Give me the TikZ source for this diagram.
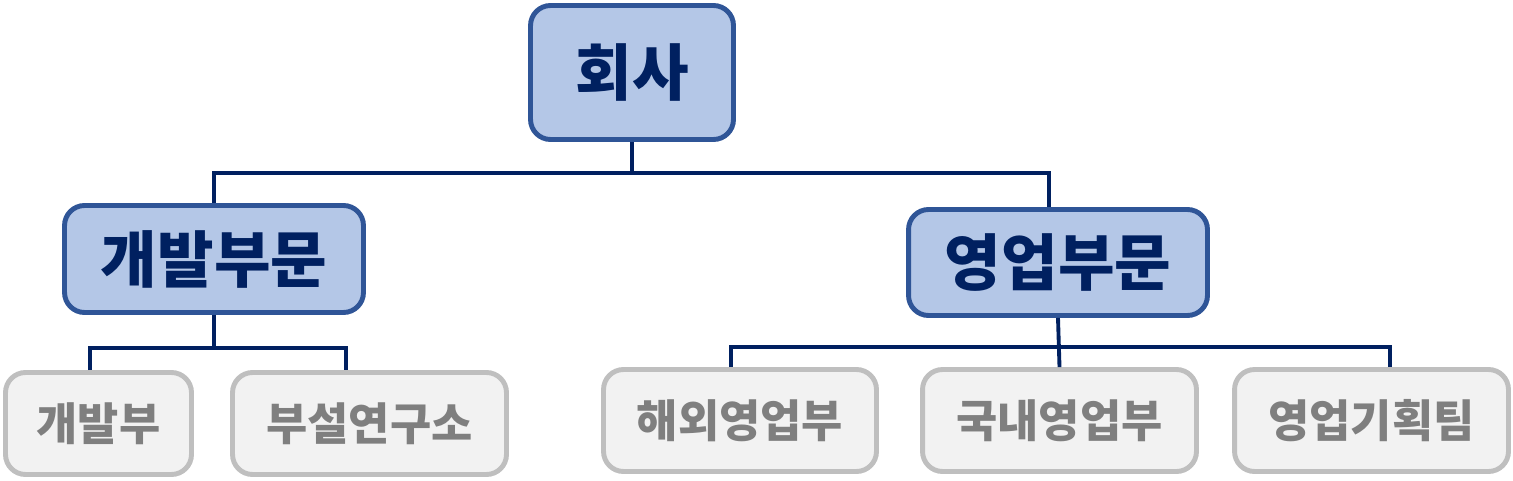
\documentclass[tikz,border=0pt]{standalone}
\usepackage{fontspec}
\newfontfamily\cjk{Noto Sans CJK KR}[BoldFont={Noto Sans CJK KR Black}]
\usepackage{tikz}
\definecolor{topfill}{HTML}{B4C7E7}
\definecolor{topline}{HTML}{2F5597}
\definecolor{toptext}{HTML}{002060}
\definecolor{subfill}{HTML}{F2F2F2}
\definecolor{subline}{HTML}{BFBFBF}
\definecolor{subtext}{HTML}{7F7F7F}
\tikzset{
  unit/.style={draw=topline,fill=topfill,text=toptext,line width=2.8pt,rounded corners=0.4cm,
    inner sep=0pt,font=\cjk\bfseries\fontsize{35}{38}\selectfont},
  team/.style={draw=subline,fill=subfill,text=subtext,line width=2.8pt,rounded corners=0.4cm,
    inner sep=0pt,minimum height=2.04cm,font=\cjk\bfseries\fontsize{25.5}{28}\selectfont},
  link/.style={draw=toptext,line width=2.2pt}
}

\begin{document}
\begin{tikzpicture}[x=0.02cm,y=-0.02cm]
		\useasboundingbox (0,0) rectangle (1513,480);
		\node[unit,minimum width=4.06cm,minimum height=2.68cm] (hq) at (632,72.5) {회사};
		\node[unit,minimum width=5.98cm,minimum height=2.14cm] (dev) at (214,259) {개발부문};
		\node[unit,minimum width=5.98cm,minimum height=2.12cm] (sales) at (1058,262.5) {영업부문};
		\node[team,minimum width=3.72cm] (devteam) at (98.5,423.5) {개발부};
		\node[team,minimum width=5.48cm] (lab) at (369.5,423.5) {부설연구소};
		\node[team,minimum width=5.46cm] (ovs) at (740,420.5) {해외영업부};
		\node[team,minimum width=5.48cm] (dom) at (1059.5,420.5) {국내영업부};
		\node[team,minimum width=5.48cm] (plan) at (1371.5,420.5) {영업기획팀};
		\coordinate (hqbus) at (632,173);
		\coordinate (devbus) at (214,348);
		\coordinate (salesbus) at (1058,347);
		\draw[link] (hq.south)--(hqbus);
		\draw[link] (dev.north) |- (hqbus) -| ([xshift=-0.18cm]sales.north);
		\draw[link] (dev.south)--(devbus);
		\draw[link] ([xshift=-0.17cm]devteam.north) |- (devbus) -| ([xshift=-0.47cm]lab.north);
		\draw[link] (sales.south)--(dom.north);
		\draw[link] ([xshift=-0.18cm]ovs.north) |- (salesbus) -| ([xshift=0.37cm]plan.north);
	\end{tikzpicture}
\end{document}
